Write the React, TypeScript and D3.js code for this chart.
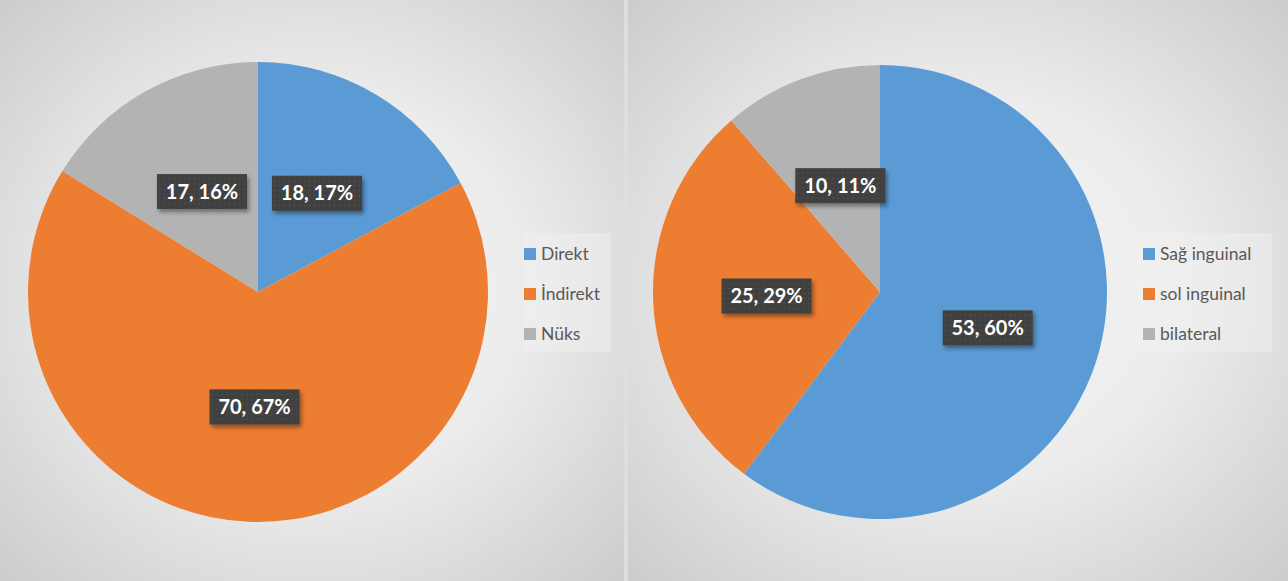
import React from "react";
import * as d3 from "d3";

const leftCategories = ["Direkt", "İndirekt", "Nüks"];
const leftValues = [18, 70, 17];
const leftPercents = [17, 67, 16];

const rightCategories = ["Sağ inguinal", "sol inguinal", "bilateral"];
const rightValues = [53, 25, 10];
const rightPercents = [60, 29, 11];

const colors = ["#5B9BD5", "#ED7D31", "#B3B3B3"];

const W = 1288;
const H = 581;

type PanelProps = {
  id: string;
  x0: number;
  width: number;
  cx: number;
  cy: number;
  r: number;
  categories: string[];
  values: number[];
  percents: number[];
  legendBox: [number, number, number, number];
  legendX: number;
};

function Panel(p: PanelProps) {
  const pie = d3.pie<number>().sort(null).value((d) => d)(p.values);
  const arc = d3.arc<d3.PieArcDatum<number>>().innerRadius(0).outerRadius(p.r);
  const rowY = [254, 294, 334];
  return (
    <g>
      <rect x={p.x0} y={0} width={p.width} height={H} fill={`url(#bg-${p.id})`} />
      <g transform={`translate(${p.cx},${p.cy})`}>
        {pie.map((d, i) => (
          <path key={i} d={arc(d) || ""} fill={colors[i]} />
        ))}
      </g>
      <rect
        x={p.legendBox[0]}
        y={p.legendBox[1]}
        width={p.legendBox[2]}
        height={p.legendBox[3]}
        fill="#f2f2f2"
        opacity={0.45}
      />
      {p.categories.map((c, i) => (
        <g key={c}>
          <rect x={p.legendX} y={rowY[i] - 6} width={12} height={12} fill={colors[i]} />
          <text
            x={p.legendX + 17}
            y={rowY[i] + 6}
            fontFamily="Lato, 'Open Sans', sans-serif"
            fontSize={17.5}
            fill="#595959"
          >
            {c}
          </text>
        </g>
      ))}
      {pie.map((d, i) => {
        const [lx, ly] = arc.centroid(d);
        const bw = 90;
        const bh = 35;
        return (
          <g key={"l" + i} transform={`translate(${p.cx + lx},${p.cy + ly})`}>
            <rect
              x={-bw / 2}
              y={-bh / 2}
              width={bw}
              height={bh}
              fill="#404040"
              filter="url(#shadow)"
            />
            <rect x={-bw / 2} y={-bh / 2} width={bw} height={bh} fill="url(#dots)" />
            <text
              x={0}
              y={7}
              textAnchor="middle"
              fontFamily="Lato, 'Open Sans', sans-serif"
              fontWeight="bold"
              fontSize={20}
              fill="#ffffff"
            >
              {`${p.values[i]}, ${p.percents[i]}%`}
            </text>
          </g>
        );
      })}
    </g>
  );
}

export default function App() {
  return (
    <svg
      width={W}
      height={H}
      style={{ position: "absolute", left: 0, top: 0, display: "block" }}
    >
      <defs>
        <radialGradient id="bg-l" cx="0.5" cy="0.5" r="0.75">
          <stop offset="0%" stopColor="#f6f6f6" />
          <stop offset="45%" stopColor="#ececec" />
          <stop offset="100%" stopColor="#c8c8c8" />
        </radialGradient>
        <radialGradient id="bg-r" cx="0.5" cy="0.5" r="0.75">
          <stop offset="0%" stopColor="#f6f6f6" />
          <stop offset="45%" stopColor="#ececec" />
          <stop offset="100%" stopColor="#c8c8c8" />
        </radialGradient>
        <pattern id="dots" width={5} height={5} patternUnits="userSpaceOnUse">
          <circle cx={2.5} cy={2.5} r={0.8} fill="#555555" />
        </pattern>
        <filter id="shadow" x="-20%" y="-30%" width="150%" height="180%">
          <feDropShadow dx={2} dy={3} stdDeviation={2} floodColor="#000" floodOpacity={0.4} />
        </filter>
      </defs>
      <rect x={0} y={0} width={W} height={H} fill="#dedede" />
      <Panel
        id="l"
        x0={0}
        width={624}
        cx={258}
        cy={292}
        r={230}
        categories={leftCategories}
        values={leftValues}
        percents={leftPercents}
        legendBox={[523, 233, 88, 119]}
        legendX={524}
      />
      <Panel
        id="r"
        x0={628}
        width={660}
        cx={880}
        cy={292}
        r={227}
        categories={rightCategories}
        values={rightValues}
        percents={rightPercents}
        legendBox={[1137, 233, 135, 119]}
        legendX={1143}
      />
    </svg>
  );
}
